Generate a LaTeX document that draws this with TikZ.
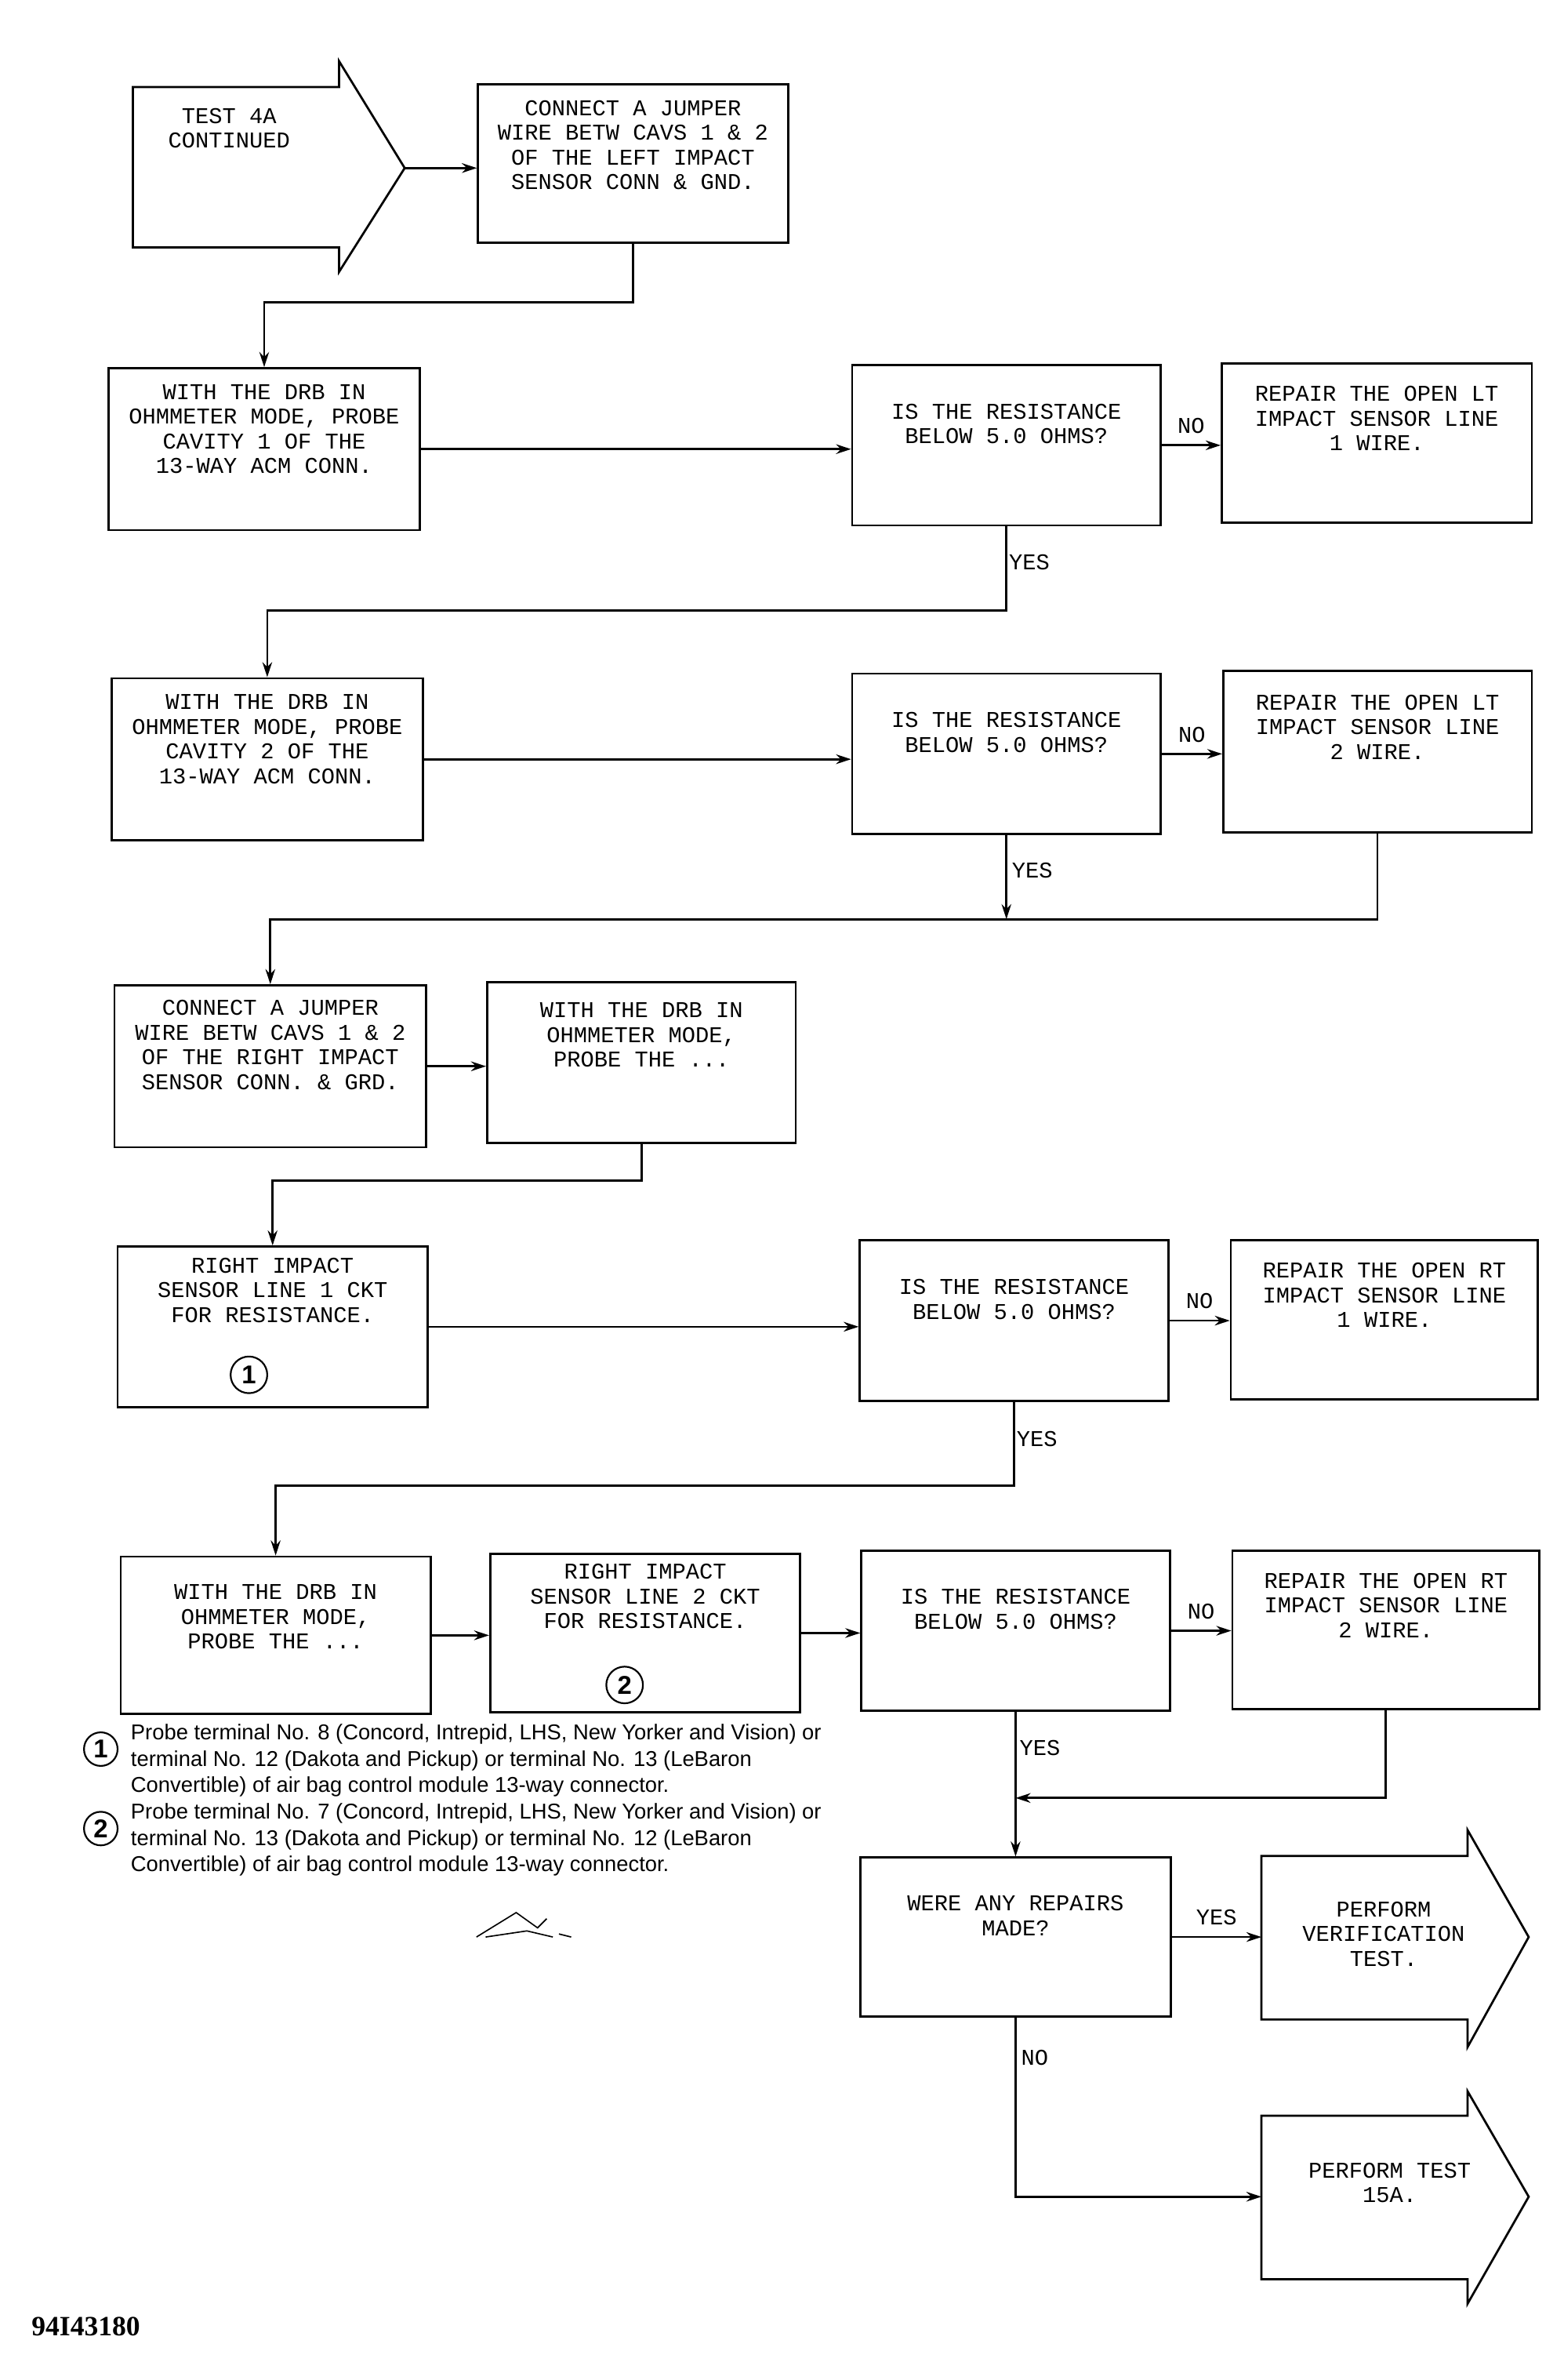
\documentclass[tikz,border=0pt]{standalone}
\usepackage{fontspec}
\setmainfont{Liberation Sans}
\newfontfamily\mono{Liberation Mono}
\newfontfamily\ser{Liberation Serif}
\usetikzlibrary{arrows.meta,calc}
\begin{document}
\begin{tikzpicture}[x=0.05cm,y=-0.05cm,
  line width=2pt,
  box/.style={draw,inner sep=0,align=center,font=\mono\fontsize{21}{23}\selectfont},
  lbl/.style={font=\mono\fontsize{21}{23}\selectfont,inner sep=0},
  arr/.style={-{Stealth[length=14pt,width=9pt]}},
  txt/.style={align=center,inner sep=0,font=\mono\fontsize{21}{23}\selectfont},
  foot/.style={anchor=north west,align=left,inner sep=0,font=\fontsize{20}{24.5}\selectfont},
  circ/.style={draw,circle,line width=1.6pt,minimum size=1.2cm,inner sep=0,font=\fontsize{24}{24}\selectfont\bfseries}]
\useasboundingbox (0,0) rectangle (1024,1558);
% start arrow
\draw (87,57) -- (222,57) -- (222,40) -- (265,110) -- (222,178) -- (222,162) -- (87,162) -- cycle;
\node[txt] (t4a) at (150,84) {TEST 4A\\CONTINUED};
\newcommand\bx[5]{\node[box,minimum width={#4*0.05cm},minimum height={#5*0.05cm}] (#1) at (#2,#3)}
\bx{b1}{414.5}{107}{203}{104}{CONNECT A JUMPER\\WIRE BETW CAVS 1 \& 2\\OF THE LEFT IMPACT\\SENSOR CONN \& GND.\\[0.4cm]};
\bx{b2}{173}{294}{204}{106}{WITH THE DRB IN\\OHMMETER MODE, PROBE\\CAVITY 1 OF THE\\13-WAY ACM CONN.\\[0.5cm]};
\bx{d1}{659}{291.5}{202}{105}{IS THE RESISTANCE\\BELOW 5.0 OHMS?\\[0.6cm]};
\bx{r1}{901.5}{290}{203}{104}{REPAIR THE OPEN LT\\IMPACT SENSOR LINE\\1 WIRE.\\[0.8cm]};
\bx{b3}{175}{497}{204}{106}{WITH THE DRB IN\\OHMMETER MODE, PROBE\\CAVITY 2 OF THE\\13-WAY ACM CONN.\\[0.5cm]};
\bx{d2}{659}{493.5}{202}{105}{IS THE RESISTANCE\\BELOW 5.0 OHMS?\\[0.6cm]};
\bx{r2}{902}{492}{202}{106}{REPAIR THE OPEN LT\\IMPACT SENSOR LINE\\2 WIRE.\\[0.8cm]};
\bx{b4}{177}{698}{204}{106}{CONNECT A JUMPER\\WIRE BETW CAVS 1 \& 2\\OF THE RIGHT IMPACT\\SENSOR CONN. \& GRD.\\[0.6cm]};
\bx{b5}{420}{695.5}{202}{105}{WITH THE DRB IN\\OHMMETER MODE,\\PROBE THE ...\\[1.0cm]};
\bx{b6}{178.5}{868.5}{203}{105}{RIGHT IMPACT\\SENSOR LINE 1 CKT\\FOR RESISTANCE.\\[1.6cm]};
\node[circ] (c1) at (163,900) {1};
\bx{d3}{664}{864.5}{202}{105}{IS THE RESISTANCE\\BELOW 5.0 OHMS?\\[0.6cm]};
\bx{r3}{906.5}{864}{201}{104}{REPAIR THE OPEN RT\\IMPACT SENSOR LINE\\1 WIRE.\\[0.8cm]};
\bx{b7}{180.5}{1070.5}{203}{103}{WITH THE DRB IN\\OHMMETER MODE,\\PROBE THE ...\\[0.4cm]};
\bx{b8}{422.5}{1069}{203}{104}{RIGHT IMPACT\\SENSOR LINE 2 CKT\\FOR RESISTANCE.\\[1.6cm]};
\node[circ] (c2) at (409,1103) {2};
\bx{d4}{665}{1067.5}{202}{105}{IS THE RESISTANCE\\BELOW 5.0 OHMS?\\[0.6cm]};
\bx{r4}{907.5}{1067}{201}{104}{REPAIR THE OPEN RT\\IMPACT SENSOR LINE\\2 WIRE.\\[0.8cm]};
\bx{d5}{665}{1268}{203}{104}{WERE ANY REPAIRS\\MADE?\\[0.6cm]};
% end arrows
\draw (826,1215) -- (961,1215) -- (961,1198) -- (1001,1268) -- (961,1340) -- (961,1322) -- (826,1322) -- cycle;
\coordinate (pv) at (826,1268);
\node[txt] (pvt) at (906,1266) {PERFORM\\VERIFICATION\\TEST.};
\draw (826,1385) -- (961,1385) -- (961,1369) -- (1001,1438) -- (961,1508) -- (961,1492) -- (826,1492) -- cycle;
\coordinate (p15) at (826,1438);
\node[txt] (p15t) at (910,1429) {PERFORM TEST\\15A.};
\coordinate (tip) at (265,110);
% connectors
\draw[arr] (tip) -- (b1.west|-tip);
\draw[arr] (b1.south) -- ++(0,38) -| (b2.north);
\draw[arr] (b2.east) -- (d1.west|-b2.east);
\draw[arr] (d1.east) -- (r1.west|-d1.east) node[lbl,midway,above=10pt] (n1) {NO};
\draw[arr] (d1.south) -- ++(0,55) -| (b3.north);
\node[lbl,anchor=west] (y1) at (660,368) {YES};
\draw[arr] (b3.east) -- (d2.west|-b3.east);
\draw[arr] (d2.east) -- (r2.west|-d2.east) node[lbl,midway,above=10pt] (n2) {NO};
\draw[arr] (d2.south) -- ++(0,55);
\draw[arr] (r2.south) -- ++(0,56) -| (b4.north);
\node[lbl,anchor=west] (y2) at (662,570) {YES};
\draw[arr] (b4.east) -- (b5.west|-b4.east);
\draw[arr] (b5.south) -- ++(0,24) -| (b6.north);
\draw[arr] (b6.east) -- (d3.west|-b6.east);
\draw[arr] (d3.east) -- (r3.west|-d3.east) node[lbl,midway,above=10pt] (n3) {NO};
\draw[arr] (d3.south) -- ++(0,55) -| (b7.north);
\node[lbl,anchor=west] (y3) at (665,942) {YES};
\draw[arr] (b7.east) -- (b8.west|-b7.east);
\draw[arr] (b8.east) -- (d4.west|-b8.east);
\draw[arr] (d4.east) -- (r4.west|-d4.east) node[lbl,midway,above=10pt] (n4) {NO};
\coordinate (j) at (665,1177);
\draw[arr] (r4.south) |- (j);
\draw[arr] (d4.south) -- (d5.north);
\node[lbl,anchor=west] (y4) at (667,1144) {YES};
\draw[arr] (d5.east) -- (pv) node[lbl,midway,above=10pt] (y5) {YES};
\draw[arr] (d5.south) |- (p15);
\node[lbl,anchor=west] (n5) at (668,1347) {NO};
% footnotes
\node[circ,minimum size=1.1cm] (f1) at (66,1145) {1};
\node[foot] (ft1) at (85,1128) {Probe terminal No. 8 (Concord, Intrepid, LHS, New Yorker and Vision) or\\terminal No. 12 (Dakota and Pickup) or terminal No. 13 (LeBaron\\Convertible) of air bag control module 13-way connector.};
\node[circ,minimum size=1.1cm] (f2) at (66,1197) {2};
\node[foot] (ft2) at (85,1180) {Probe terminal No. 7 (Concord, Intrepid, LHS, New Yorker and Vision) or\\terminal No. 13 (Dakota and Pickup) or terminal No. 12 (LeBaron\\Convertible) of air bag control module 13-way connector.};
\draw[line width=1.2pt] (312,1268) -- (338,1252) -- (352,1262) -- (358,1256) (318,1268) -- (345,1264) -- (362,1268) (366,1266) -- (374,1268);
\node[anchor=west,inner sep=0,font=\ser\bfseries\fontsize{26}{26}\selectfont] (id) at (20,1523) {94I43180};
\end{tikzpicture}
\end{document}
